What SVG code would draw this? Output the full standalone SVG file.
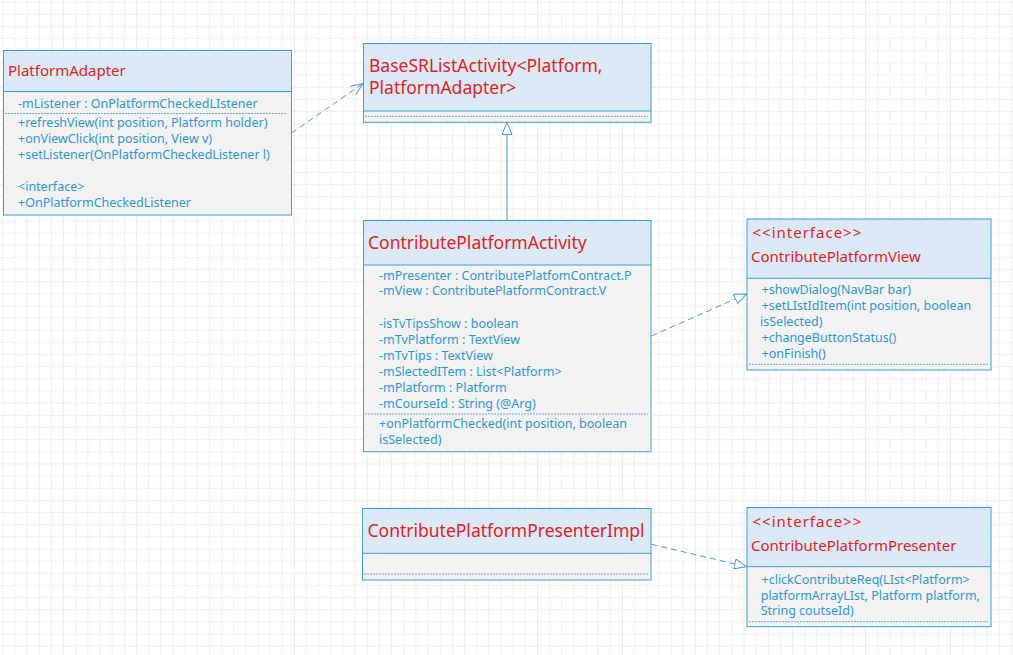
<svg xmlns="http://www.w3.org/2000/svg" width="1013" height="655" viewBox="0 0 1013 655">
<style>
.hd{fill:#dbe8f6;stroke:none}
.bd{fill:#f2f2f2;stroke:none}
.fr{fill:none;stroke:#3f9fd5;stroke-width:1}
.sl{stroke:#3f9fd5;stroke-width:1}
.dl{stroke:#4a9bd0;stroke-width:0.8;stroke-dasharray:2 1}
.tt{font-family:"Noto Sans","Open Sans",sans-serif;fill:#e02424}
.t1{font-size:15px}
.t2{font-size:17.5px}
.tx{font-family:"Noto Sans","Open Sans",sans-serif;font-size:12.5px;fill:#2f97d6}
.cn{fill:none;stroke:#4a9bd0;stroke-width:1}
.ds{stroke-dasharray:6 4}
</style>
<defs>
<pattern id="grid" width="12.15" height="12.15" patternUnits="userSpaceOnUse" x="3.3" y="2.7">
<path d="M12.15 0V12.15H0" fill="none" stroke="#dedede" stroke-width="1"/>
</pattern>
<marker id="tri" viewBox="0 0 13 11" refX="12.5" refY="5.5" markerWidth="13" markerHeight="11" markerUnits="userSpaceOnUse" orient="auto">
<path d="M0.5,0.5 L12.5,5.5 L0.5,10.5 Z" fill="#ffffff" stroke="#4a9bd0" stroke-width="1"/>
</marker>
<marker id="open" viewBox="0 0 13 11" refX="12.5" refY="5.5" markerWidth="13" markerHeight="11" markerUnits="userSpaceOnUse" orient="auto">
<path d="M0.5,0.5 L12.5,5.5 L0.5,10.5" fill="none" stroke="#4a9bd0" stroke-width="1"/>
</marker>
</defs>
<rect width="1013" height="655" fill="#ffffff"/>
<rect width="1013" height="655" fill="url(#grid)"/>

<g id="connectors">
<path class="cn ds" d="M291.5,133 L363,83.5" marker-end="url(#open)"/>
<path class="cn" d="M507,220 L507,122.5" marker-end="url(#tri)"/>
<path class="cn ds" d="M651.5,336 L746.5,294" marker-end="url(#tri)"/>
<path class="cn ds" d="M651.5,544.3 L746.5,566.7" marker-end="url(#tri)"/>
</g>

<g id="PlatformAdapter">
<rect class="hd" x="3.5" y="50.5" width="288" height="41"/>
<rect class="bd" x="3.5" y="91.5" width="288" height="123.5"/>
<rect class="fr" x="3.5" y="50.5" width="288" height="164.5"/>
<line class="sl" x1="3.5" y1="91.5" x2="291.5" y2="91.5"/>
<line class="dl" x1="5" y1="113.5" x2="287" y2="113.5"/>
<text class="tt t1" x="8" y="76">PlatformAdapter</text>
<text class="tx" x="18" y="107.7">-mListener : OnPlatformCheckedLIstener</text>
<text class="tx" x="18" y="127.1">+refreshView(int position, Platform holder)</text>
<text class="tx" x="18" y="143.1">+onViewClick(int position, View v)</text>
<text class="tx" x="18" y="159.4">+setListener(OnPlatformCheckedListener l)</text>
<text class="tx" x="18" y="191.1">&lt;interface&gt;</text>
<text class="tx" x="18" y="207.1">+OnPlatformCheckedListener</text>
</g>

<g id="BaseSRListActivity">
<rect class="hd" x="363.5" y="43.5" width="287.5" height="67.5"/>
<rect class="bd" x="363.5" y="111" width="287.5" height="11"/>
<rect class="fr" x="363.5" y="43.5" width="287.5" height="78.8"/>
<line class="sl" x1="363.5" y1="111" x2="651" y2="111"/>
<line class="dl" x1="365" y1="116.3" x2="648" y2="116.3"/>
<text class="tt t2" x="369" y="71.5">BaseSRListActivity&lt;Platform,</text>
<text class="tt t2" x="369" y="93.5">PlatformAdapter&gt;</text>
</g>

<g id="ContributePlatformActivity">
<rect class="hd" x="363.5" y="220.5" width="287.5" height="44.5"/>
<rect class="bd" x="363.5" y="265" width="287.5" height="186.7"/>
<rect class="fr" x="363.5" y="220.5" width="287.5" height="231.2"/>
<line class="sl" x1="363.5" y1="265" x2="651" y2="265"/>
<line class="dl" x1="365" y1="414" x2="648" y2="414"/>
<text class="tt t2" x="368" y="248.5">ContributePlatformActivity</text>
<text class="tx" x="379" y="280.1">-mPresenter : ContributePlatfomContract.P</text>
<text class="tx" x="379" y="295.4">-mView : ContributePlatformContract.V</text>
<text class="tx" x="379" y="327.7">-isTvTipsShow : boolean</text>
<text class="tx" x="379" y="343.7">-mTvPlatform : TextView</text>
<text class="tx" x="379" y="359.7">-mTvTips : TextView</text>
<text class="tx" x="379" y="376">-mSlectedITem : List&lt;Platform&gt;</text>
<text class="tx" x="379" y="391.7">-mPlatform : Platform</text>
<text class="tx" x="379" y="407.7">-mCourseId : String (@Arg)</text>
<text class="tx" x="379" y="427.7">+onPlatformChecked(int position, boolean</text>
<text class="tx" x="379" y="443.7">isSelected)</text>
</g>

<g id="ContributePlatformView">
<rect class="hd" x="747" y="219" width="244" height="59.3"/>
<rect class="bd" x="747" y="278.3" width="244" height="91.7"/>
<rect class="fr" x="747" y="219" width="244" height="151"/>
<line class="sl" x1="747" y1="278.3" x2="991" y2="278.3"/>
<line class="dl" x1="749" y1="364.3" x2="988" y2="364.3"/>
<text class="tt t1" x="752.5" y="238.3" letter-spacing="1">&lt;&lt;interface&gt;&gt;</text>
<text class="tt t1" x="751" y="262">ContributePlatformView</text>
<text class="tx" x="761.5" y="294.4">+showDialog(NavBar bar)</text>
<text class="tx" x="761.5" y="310.4">+setLIstIdItem(int position, boolean</text>
<text class="tx" x="760" y="326.1">isSelected)</text>
<text class="tx" x="761.5" y="341.7">+changeButtonStatus()</text>
<text class="tx" x="761.5" y="358.4">+onFinish()</text>
</g>

<g id="ContributePlatformPresenterImpl">
<rect class="hd" x="362.5" y="508.5" width="288.5" height="44.8"/>
<rect class="bd" x="362.5" y="553.3" width="288.5" height="26.7"/>
<rect class="fr" x="362.5" y="508.5" width="288.5" height="71.5"/>
<line class="sl" x1="362.5" y1="553.3" x2="651" y2="553.3"/>
<line class="dl" x1="364" y1="574" x2="648" y2="574"/>
<text class="tt t2" x="367.5" y="536.8">ContributePlatformPresenterImpl</text>
</g>

<g id="ContributePlatformPresenter">
<rect class="hd" x="747" y="507.5" width="244" height="59.2"/>
<rect class="bd" x="747" y="566.7" width="244" height="60"/>
<rect class="fr" x="747" y="507.5" width="244" height="119.2"/>
<line class="sl" x1="747" y1="566.7" x2="991" y2="566.7"/>
<line class="dl" x1="749" y1="621.7" x2="988" y2="621.7"/>
<text class="tt t1" x="752.5" y="527" letter-spacing="1">&lt;&lt;interface&gt;&gt;</text>
<text class="tt t1" x="751" y="551.3">ContributePlatformPresenter</text>
<text class="tx" x="761.5" y="584.4">+clickContributeReq(LIst&lt;Platform&gt;</text>
<text class="tx" x="760.7" y="600.1">platformArrayLIst, Platform platform,</text>
<text class="tx" x="760.7" y="615.4">String coutseId)</text>
</g>
</svg>
